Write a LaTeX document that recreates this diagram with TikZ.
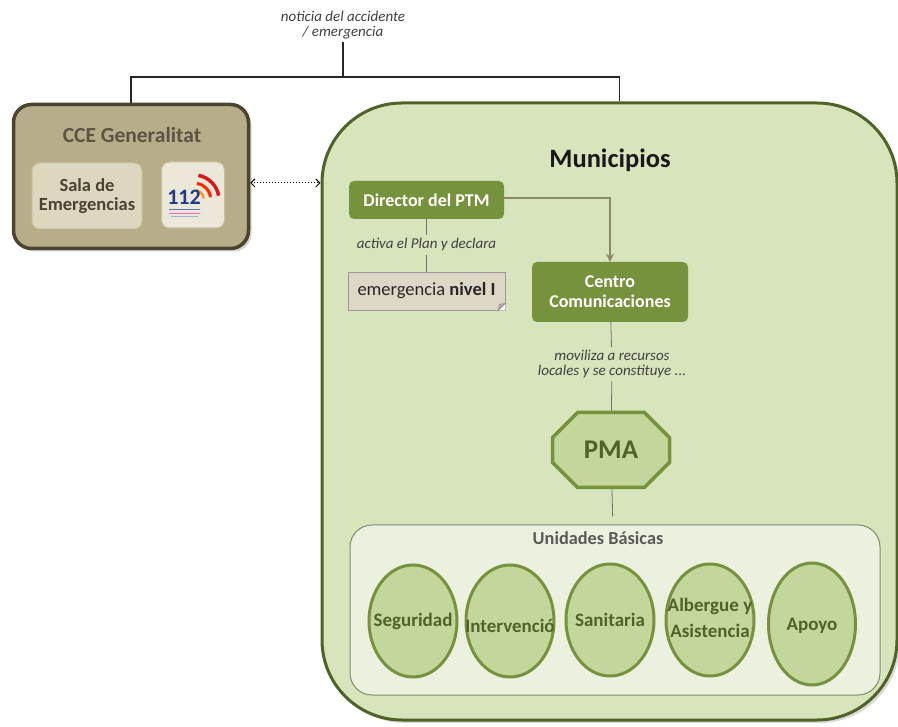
\documentclass[tikz,border=0pt]{standalone}
\usepackage{fontspec}
\setmainfont{Carlito}
\usetikzlibrary{shapes.geometric,shapes.misc,arrows.meta,shadows}

\definecolor{fondoMuni}{HTML}{D7E4BC}
\definecolor{bordeMuni}{HTML}{4F6228}
\definecolor{olivo}{HTML}{76923C}
\definecolor{verdeclaro}{HTML}{C3D69B}
\definecolor{fondoUni}{HTML}{EBF1DE}
\definecolor{bordeUni}{HTML}{7F8C6A}
\definecolor{cceFondo}{HTML}{B7AD8A}
\definecolor{cceBorde}{HTML}{4B4530}
\definecolor{cceTexto}{HTML}{5C5441}
\definecolor{salaFondo}{HTML}{DDD7BF}
\definecolor{salaBorde}{HTML}{C9C0A0}
\definecolor{notaFondo}{HTML}{DDD8C6}
\definecolor{flechaGris}{HTML}{8A8A6A}
\definecolor{textoOscuro}{HTML}{4F6228}
\definecolor{azul112}{HTML}{1F3C8C}
\definecolor{rojo112}{HTML}{D7191C}
\definecolor{naranja112}{HTML}{F29A2E}

\begin{document}
\begin{tikzpicture}[x=1pt, y=-1pt,
    caja/.style={draw=none, fill=olivo, rounded corners=5pt, text=white, font=\fontsize{18}{20}\selectfont\bfseries, align=center},
    unidad/.style={ellipse, draw=olivo, line width=3pt, fill=verdeclaro, minimum width=88pt, minimum height=112pt, inner sep=0pt},
    etiqueta/.style={font=\fontsize{19}{26}\selectfont\bfseries, text=textoOscuro, align=center},
    nota/.style={font=\fontsize{15}{15}\selectfont\itshape, text=black!75, align=center, inner sep=3pt},
    enlace/.style={draw=black!55, line width=0.8pt},
    flecha/.style={draw=flechaGris, line width=1.3pt, -{Stealth[length=8pt, width=8pt]}}
  ]
  \useasboundingbox (0,0) rectangle (898,727);

  % aviso de entrada
  \node[nota] (noticia) at (343,25) {noticia del accidente\\/ emergencia};
  \coordinate (reparto) at (343,77);

  % centro de coordinacion
  \node[draw=cceBorde, line width=3.5pt, fill=cceFondo, rounded corners=18pt, minimum width=235pt, minimum height=144pt, drop shadow={opacity=0.35, shadow xshift=3pt, shadow yshift=-3pt}] (cce) at (131,176.5) {};
  \node[font=\fontsize{21.5}{24}\selectfont\bfseries, text=cceTexto] (titcce) at (132,135) {CCE Generalitat};
  \node[draw=salaBorde, line width=1pt, fill=salaFondo, rounded corners=8pt, minimum width=110pt, minimum height=66pt, align=center, font=\fontsize{18.5}{19}\selectfont\bfseries, text=cceTexto!80!black] (sala) at (87,196) {Sala de\\Emergencias};
  \node[draw=salaBorde, line width=1pt, fill=salaFondo!60!white, rounded corners=8pt, minimum width=63pt, minimum height=66pt] (tel) at (193,195) {};
  % logo 112
  \draw[naranja112, line width=2.5pt] (194,200) ++(-80:10) arc[start angle=-80, end angle=-10, radius=10];
  \draw[red!70!orange, line width=3pt] (194,200) ++(-80:17) arc[start angle=-80, end angle=-10, radius=17];
  \draw[rojo112, line width=3.5pt] (194,200) ++(-80:25) arc[start angle=-80, end angle=-10, radius=25];
  \node[font=\fontsize{22}{22}\selectfont\bfseries, text=azul112, inner sep=0pt] (num112) at (184,197) {112};
  \fill[azul112!70] (169,209) rectangle (200,210.5);
  \fill[red!40!magenta!60] (169,213) rectangle (200,214);
  \fill[azul112!40] (171,216) rectangle (198,217);

  % ambito municipal
  \node[draw=bordeMuni, line width=3pt, fill=fondoMuni, rounded corners=80pt, minimum width=575pt, minimum height=617pt, drop shadow={opacity=0.3, shadow xshift=3pt, shadow yshift=-3pt}] (muni) at (609.5,411.5) {};
  \node[font=\fontsize{26.5}{28}\selectfont\bfseries, text=black!90] (titmuni) at (610,160) {Municipios};

  \node[caja, minimum width=155pt, minimum height=38pt] (director) at (426.5,200) {Director del PTM};
  \node[nota] (activa) at (426.5,245) {activa el Plan y declara};
  \node[draw=black!40, line width=0.8pt, fill=notaFondo, minimum width=157pt, minimum height=38pt, font=\fontsize{18.5}{20}\selectfont, text=black!85] (emergencia) at (426.5,291) {emergencia \textbf{nivel I}};
  \fill[white] (emergencia.south east) -- ++(-7,0) -- ++(7,-7) -- cycle;
  \draw[black!40, line width=0.8pt, fill=notaFondo!80!black] ([xshift=-7pt]emergencia.south east) -- ([yshift=7pt]emergencia.south east) -- ([xshift=-6pt, yshift=6pt]emergencia.south east) -- cycle;

  \node[caja, minimum width=156pt, minimum height=60pt] (centro) at (610,292) {Centro\\Comunicaciones};
  \node[nota] (moviliza) at (612,364) {moviliza a recursos\\locales y se constituye ...};

  \node[chamfered rectangle, chamfered rectangle xsep=19pt, chamfered rectangle ysep=13pt, draw=olivo, line width=3.5pt, fill=verdeclaro, minimum width=117pt, minimum height=75pt, font=\fontsize{27}{30}\selectfont\bfseries, text=textoOscuro] (pma) at (611,450) {PMA};

  % unidades basicas
  \node[draw=bordeUni, line width=1pt, fill=fondoUni, rounded corners=22pt, minimum width=530pt, minimum height=170pt] (unidades) at (615,610) {};
  \node[font=\fontsize{18.3}{20}\selectfont\bfseries, text=black!65] (titunidades) at (598,538) {Unidades Básicas};
  \node[unidad, label={[etiqueta]center:Seguridad}] (seguridad) at (413,621) {};
  \node[unidad, label={[etiqueta, yshift=-5pt]center:Intervenció}] (intervencion) at (510,621) {};
  \node[unidad, label={[etiqueta]center:Sanitaria}] (sanitaria) at (610,620) {};
  \node[unidad, label={[etiqueta, yshift=2pt]center:Albergue y\\Asistencia}] (albergue) at (710,620) {};
  \node[unidad, minimum width=87pt, minimum height=122pt, label={[etiqueta, yshift=-2pt]center:Apoyo}] (apoyo) at (812,624) {};

  % conexiones
  \draw[line width=1.2pt, black!85] (noticia) -- (reparto);
  \draw[line width=1.2pt, black!85] (cce.north) |- (reparto) -| ([xshift=10pt]muni.north);
  \draw[dotted, line width=1pt, {Straight Barb[length=4pt]}-{Straight Barb[length=4pt]}] ([yshift=-6.5pt]cce.east) -- ([yshift=-6.5pt]cce.east -| muni.west);
  \draw[flecha] ([yshift=2pt]director.east) -| (centro.north);
  \draw[enlace] (director) -- (activa);
  \draw[enlace] (activa) -- (emergencia);
  \draw[enlace] (centro) -- (moviliza);
  \draw[enlace] (moviliza) -- (pma);
  \draw[enlace, shorten >=8pt] (pma) -- (unidades);
\end{tikzpicture}
\end{document}
